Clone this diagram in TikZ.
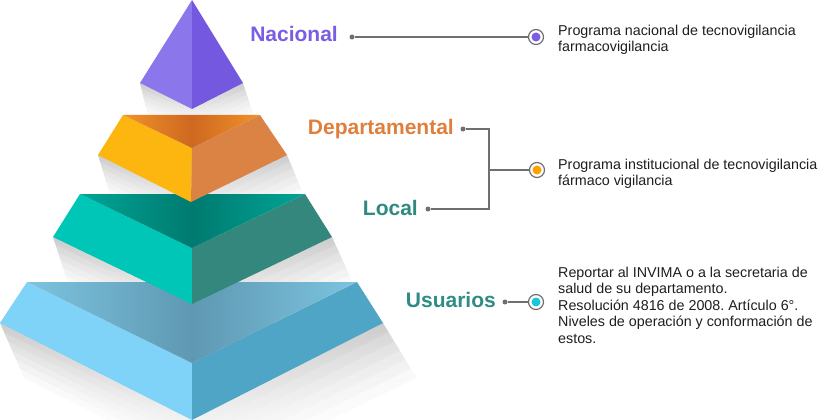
\documentclass[tikz,border=0pt]{standalone}
\usepackage{fontspec}
\setmainfont{Liberation Sans}
\usetikzlibrary{calc}
\frenchspacing

% face colours
\definecolor{purLeft}{HTML}{8B77EB}
\definecolor{purRight}{HTML}{7458E0}
\definecolor{oraLeft}{HTML}{FDB50F}
\definecolor{oraRight}{HTML}{DB8245}
\definecolor{oraTopEdge}{HTML}{F0922A}
\definecolor{oraTopMid}{HTML}{CE6820}
\definecolor{teaLeft}{HTML}{00C6B8}
\definecolor{teaRight}{HTML}{34877D}
\definecolor{teaTopEdge}{HTML}{00A596}
\definecolor{teaTopMid}{HTML}{007A6F}
\definecolor{bluLeft}{HTML}{7FD3F9}
\definecolor{bluRight}{HTML}{4FA5C5}
\definecolor{bluTopEdge}{HTML}{7CC4DF}
\definecolor{bluTopMid}{HTML}{5F98B2}
% labels and connectors
\definecolor{purText}{HTML}{7B5CE4}
\definecolor{depText}{HTML}{E07F3C}
\definecolor{locText}{HTML}{2E8A7F}
\definecolor{usuText}{HTML}{2F8C85}
\definecolor{wire}{HTML}{6F6F6F}
\definecolor{ink}{HTML}{1E1E1E}
\definecolor{dotPur}{HTML}{7B5CE6}
\definecolor{dotOra}{HTML}{FFA000}
\definecolor{dotCya}{HTML}{1CC5DA}

% soft shadow below a tier: left corner, bottom point, right corner, offset
\newcommand\castshadow[5]{%
  \foreach \k in {1,...,6}{%
    \shade[top color=black,bottom color=white,opacity=0.034]
      (#1) -- ($(#1)+(\k/6*#4,\k/6*#5)$) -- ($(#2)+(\k/6*#4,\k/6*#5)$)
      -- ($(#3)+(\k/6*#4+\k/6*0.4*#4,\k/6*#5)$) -- (#3) -- cycle;
  }%
}

\begin{document}
\begin{tikzpicture}[x=1pt,y=-1pt,
  tier/.style={font=\fontsize{21}{24}\selectfont\bfseries,inner sep=0pt,anchor=base east},
  note/.style={font=\fontsize{14.3}{16.6}\selectfont,text=ink,align=left,inner sep=0pt,anchor=north west},
  link/.style={draw=wire,line width=1.5pt},
  pin/.style={circle,fill=wire,inner sep=0pt,minimum size=5pt},
  marker/.style={circle,draw=wire,fill=white,line width=1.2pt,inner sep=0pt,minimum size=15pt,
    path picture={\fill[#1] (path picture bounding box.center) circle (4.5pt);}},
]
\useasboundingbox (0,0) rectangle (820,420);

% ---------- corner points of the four tiers ----------
% purple apex block
\coordinate (pA) at (192,0);
\coordinate (pL) at (140,83);
\coordinate (pR) at (243,83);
\coordinate (pF) at (192,109);
% orange tier
\coordinate (oBL) at (123,115);
\coordinate (oBR) at (260,115);
\coordinate (oL) at (98,155);
\coordinate (oR) at (287,155);
\coordinate (oF) at (192,148);
\coordinate (oB) at (191,202);
% teal tier
\coordinate (tBL) at (80,194);
\coordinate (tBR) at (305,194);
\coordinate (tL) at (53,237);
\coordinate (tR) at (332,237);
\coordinate (tF) at (192,248);
\coordinate (tB) at (192,304);
% blue tier
\coordinate (bBL) at (27,282);
\coordinate (bBR) at (357,282);
\coordinate (bL) at (0,323);
\coordinate (bR) at (383,323);
\coordinate (bF) at (192,363);
\coordinate (bB) at (192,420);

% ---------- soft shadows cast below each tier ----------
\castshadow{pL}{pF}{pR}{8}{34}
\castshadow{oL}{oB}{oR}{12}{40}
\castshadow{tL}{tB}{tR}{15}{46}
\castshadow{bL}{bB}{bR}{24}{55}

% ---------- blue tier ----------
\fill[bluLeft] (bBL) -- (bF) -- (bB) -- (bL) -- cycle;
\fill[bluRight] (bBR) -- (bR) -- (bB) -- (bF) -- cycle;
\shade[left color=bluTopEdge,right color=bluTopEdge,middle color=bluTopMid] (bBL) -- (bBR) -- (bF) -- cycle;

% ---------- teal tier ----------
\fill[teaLeft] (tBL) -- (tF) -- (tB) -- (tL) -- cycle;
\fill[teaRight] (tBR) -- (tR) -- (tB) -- (tF) -- cycle;
\shade[left color=teaTopEdge,right color=teaTopEdge,middle color=teaTopMid] (tBL) -- (tBR) -- (tF) -- cycle;

% ---------- orange tier ----------
\fill[oraLeft] (oBL) -- (oF) -- (oB) -- (oL) -- cycle;
\fill[oraRight] (oBR) -- (oR) -- (oB) -- (oF) -- cycle;
\shade[left color=oraTopEdge,right color=oraTopEdge,middle color=oraTopMid] (oBL) -- (oBR) -- (oF) -- cycle;

% ---------- purple apex ----------
\fill[purLeft] (pA) -- (pF) -- (pL) -- cycle;
\fill[purRight] (pA) -- (pR) -- (pF) -- cycle;

% ---------- tier names ----------
\node[tier,text=purText] (nac) at (338,42) {Nacional};
\node[tier,text=depText] (dep) at (454,135) {Departamental};
\node[tier,text=locText] (loc) at (418,215) {Local};
\node[tier,text=usuText] (usu) at (496,307) {Usuarios};

% ---------- connectors ----------
\node[pin] (dN) at (352,37) {};
\node[marker=dotPur] (mN) at (536,37) {};
\draw[link] (dN) -- (mN);

\node[pin] (dD) at (463,129) {};
\node[pin] (dL) at (428,209) {};
\coordinate (jT) at (489,129);
\coordinate (jB) at (489,209);
\coordinate (jM) at (489,170);
\node[marker=dotOra] (mD) at (537,170) {};
\draw[link] (dD) -- (jT) -- (jB) -- (dL);
\draw[link] (jM) -- (mD);

\node[pin] (dU) at (505,302) {};
\node[marker=dotCya] (mU) at (536,302) {};
\draw[link] (dU) -- (mU);

% ---------- descriptions ----------
\node[note] (tN) at (558,24.5) {Programa nacional de tecnovigilancia\\farmacovigilancia};
\node[note] (tD) at (558,158.5) {Programa institucional de tecnovigilancia\\fármaco vigilancia};
\node[note] (tU) at (558,266.5) {Reportar al INVIMA o a la secretaria de\\salud de su departamento.\\Resolución 4816 de 2008. Artículo 6°.\\Niveles de operación y conformación de\\estos.};
\end{tikzpicture}
\end{document}
